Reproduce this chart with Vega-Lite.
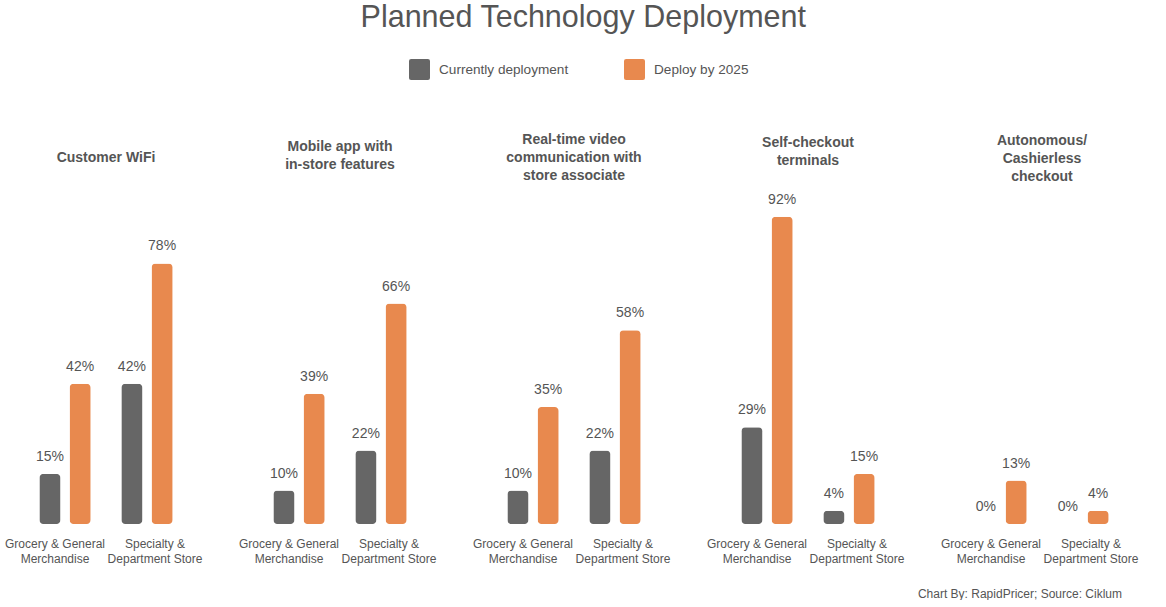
{
  "$schema": "https://vega.github.io/schema/vega-lite/v6.json",
  "padding": {"left": 4, "top": 2, "right": 0, "bottom": 0},
  "background": "white",
  "config": {
    "font": "Liberation Sans",
    "view": {"stroke": null},
    "concat": {"spacing": 32},
    "range": {"category": ["#666666", "#E8894E"]},
    "title": {"fontSize": 14, "fontWeight": "bold", "color": "#555555", "lineHeight": 18, "frame": "group", "anchor": "middle"},
    "axisX": {"labelAngle": 0, "labelFontSize": 12, "labelColor": "#555555", "labelLineHeight": 15, "labelPadding": 14, "ticks": false, "domain": false, "grid": false},
    "legend": {
      "orient": "none",
      "legendX": 403,
      "legendY": -131,
      "direction": "horizontal",
      "symbolType": "M-0.8,-1H0.8Q1,-1 1,-0.8V0.8Q1,1 0.8,1H-0.8Q-1,1 -1,0.8V-0.8Q-1,-1 -0.8,-1Z",
      "symbolSize": 441,
      "symbolStrokeWidth": 0,
      "labelFontSize": 13.6,
      "labelColor": "#555555",
      "labelOffset": 9,
      "columnPadding": 55
    },
    "bar": {"cornerRadius": 4},
    "text": {"baseline": "bottom", "dy": -10, "fontSize": 14, "color": "#555555"}
  },
  "title": {
    "text": "Planned Technology Deployment",
    "fontSize": 30.5,
    "fontWeight": "normal",
    "color": "#555555",
    "anchor": "middle",
    "frame": "bounds",
    "offset": 26,
    "dx": 10
  },
  "data": {
    "values": [
      {"tech": "Customer WiFi", "group": "Grocery & General|Merchandise", "series": "Currently deployment", "value": 0.15},
      {"tech": "Customer WiFi", "group": "Grocery & General|Merchandise", "series": "Deploy by 2025", "value": 0.42},
      {"tech": "Customer WiFi", "group": "Specialty &|Department Store", "series": "Currently deployment", "value": 0.42},
      {"tech": "Customer WiFi", "group": "Specialty &|Department Store", "series": "Deploy by 2025", "value": 0.78},
      {"tech": "Mobile app", "group": "Grocery & General|Merchandise", "series": "Currently deployment", "value": 0.10},
      {"tech": "Mobile app", "group": "Grocery & General|Merchandise", "series": "Deploy by 2025", "value": 0.39},
      {"tech": "Mobile app", "group": "Specialty &|Department Store", "series": "Currently deployment", "value": 0.22},
      {"tech": "Mobile app", "group": "Specialty &|Department Store", "series": "Deploy by 2025", "value": 0.66},
      {"tech": "Real-time video", "group": "Grocery & General|Merchandise", "series": "Currently deployment", "value": 0.10},
      {"tech": "Real-time video", "group": "Grocery & General|Merchandise", "series": "Deploy by 2025", "value": 0.35},
      {"tech": "Real-time video", "group": "Specialty &|Department Store", "series": "Currently deployment", "value": 0.22},
      {"tech": "Real-time video", "group": "Specialty &|Department Store", "series": "Deploy by 2025", "value": 0.58},
      {"tech": "Self-checkout", "group": "Grocery & General|Merchandise", "series": "Currently deployment", "value": 0.29},
      {"tech": "Self-checkout", "group": "Grocery & General|Merchandise", "series": "Deploy by 2025", "value": 0.92},
      {"tech": "Self-checkout", "group": "Specialty &|Department Store", "series": "Currently deployment", "value": 0.04},
      {"tech": "Self-checkout", "group": "Specialty &|Department Store", "series": "Deploy by 2025", "value": 0.15},
      {"tech": "Autonomous", "group": "Grocery & General|Merchandise", "series": "Currently deployment", "value": 0.0},
      {"tech": "Autonomous", "group": "Grocery & General|Merchandise", "series": "Deploy by 2025", "value": 0.13},
      {"tech": "Autonomous", "group": "Specialty &|Department Store", "series": "Currently deployment", "value": 0.0},
      {"tech": "Autonomous", "group": "Specialty &|Department Store", "series": "Deploy by 2025", "value": 0.04}
    ]
  },
  "vconcat": [
    {
      "title": {
        "text": "Chart By: RapidPricer; Source: Ciklum",
        "orient": "bottom",
        "anchor": "end",
        "frame": "bounds",
        "fontSize": 12,
        "fontWeight": "normal",
        "color": "#555555",
        "offset": 25,
        "dx": -20
      },
      "hconcat": [
        {
          "title": {"text": ["Customer WiFi"], "offset": 25},
          "transform": [{"filter": "datum.tech === 'Customer WiFi'"}],
          "width": 200,
          "height": 334,
          "encoding": {
            "x": {"field": "group", "type": "nominal", "title": null, "scale": {"paddingInner": 0.3, "paddingOuter": 0.37},
              "axis": {"labelExpr": "split(datum.value, '|')", "labelOffset": {"condition": {"test": "indexof(datum.value, 'Grocery') === 0", "value": -10}, "value": 8}}},
            "xOffset": {"field": "series", "type": "nominal", "scale": {"paddingInner": 0.3, "paddingOuter": 0.1}},
            "y": {"field": "value", "type": "quantitative", "scale": {"domain": [0, 1]}, "axis": null}
          },
          "layer": [
            {"mark": "bar", "encoding": {"color": {"field": "series", "type": "nominal", "title": null}}},
            {"mark": "text", "encoding": {"text": {"field": "value", "type": "quantitative", "format": ".0%"}}}
          ]
        },
        {
          "title": {"text": ["Mobile app with", "in-store features"], "offset": 18},
          "transform": [{"filter": "datum.tech === 'Mobile app'"}],
          "width": 200,
          "height": 334,
          "encoding": {
            "x": {"field": "group", "type": "nominal", "title": null, "scale": {"paddingInner": 0.3, "paddingOuter": 0.37},
              "axis": {"labelExpr": "split(datum.value, '|')", "labelOffset": {"condition": {"test": "indexof(datum.value, 'Grocery') === 0", "value": -10}, "value": 8}}},
            "xOffset": {"field": "series", "type": "nominal", "scale": {"paddingInner": 0.3, "paddingOuter": 0.1}},
            "y": {"field": "value", "type": "quantitative", "scale": {"domain": [0, 1]}, "axis": null}
          },
          "layer": [
            {"mark": "bar", "encoding": {"color": {"field": "series", "type": "nominal", "title": null}}},
            {"mark": "text", "encoding": {"text": {"field": "value", "type": "quantitative", "format": ".0%"}}}
          ]
        },
        {
          "title": {"text": ["Real-time video", "communication with", "store associate"], "offset": 7},
          "transform": [{"filter": "datum.tech === 'Real-time video'"}],
          "width": 200,
          "height": 334,
          "encoding": {
            "x": {"field": "group", "type": "nominal", "title": null, "scale": {"paddingInner": 0.3, "paddingOuter": 0.37},
              "axis": {"labelExpr": "split(datum.value, '|')", "labelOffset": {"condition": {"test": "indexof(datum.value, 'Grocery') === 0", "value": -10}, "value": 8}}},
            "xOffset": {"field": "series", "type": "nominal", "scale": {"paddingInner": 0.3, "paddingOuter": 0.1}},
            "y": {"field": "value", "type": "quantitative", "scale": {"domain": [0, 1]}, "axis": null}
          },
          "layer": [
            {"mark": "bar", "encoding": {"color": {"field": "series", "type": "nominal", "title": null}}},
            {"mark": "text", "encoding": {"text": {"field": "value", "type": "quantitative", "format": ".0%"}}}
          ]
        },
        {
          "title": {"text": ["Self-checkout", "terminals"], "offset": 22},
          "transform": [{"filter": "datum.tech === 'Self-checkout'"}],
          "width": 200,
          "height": 334,
          "encoding": {
            "x": {"field": "group", "type": "nominal", "title": null, "scale": {"paddingInner": 0.3, "paddingOuter": 0.37},
              "axis": {"labelExpr": "split(datum.value, '|')", "labelOffset": {"condition": {"test": "indexof(datum.value, 'Grocery') === 0", "value": -10}, "value": 8}}},
            "xOffset": {"field": "series", "type": "nominal", "scale": {"paddingInner": 0.3, "paddingOuter": 0.1}},
            "y": {"field": "value", "type": "quantitative", "scale": {"domain": [0, 1]}, "axis": null}
          },
          "layer": [
            {"mark": "bar", "encoding": {"color": {"field": "series", "type": "nominal", "title": null}}},
            {"mark": "text", "encoding": {"text": {"field": "value", "type": "quantitative", "format": ".0%"}}}
          ]
        },
        {
          "title": {"text": ["Autonomous/", "Cashierless", "checkout"], "offset": 6},
          "transform": [{"filter": "datum.tech === 'Autonomous'"}],
          "width": 200,
          "height": 334,
          "encoding": {
            "x": {"field": "group", "type": "nominal", "title": null, "scale": {"paddingInner": 0.3, "paddingOuter": 0.37},
              "axis": {"labelExpr": "split(datum.value, '|')", "labelOffset": {"condition": {"test": "indexof(datum.value, 'Grocery') === 0", "value": -10}, "value": 8}}},
            "xOffset": {"field": "series", "type": "nominal", "scale": {"paddingInner": 0.3, "paddingOuter": 0.1}},
            "y": {"field": "value", "type": "quantitative", "scale": {"domain": [0, 1]}, "axis": null}
          },
          "layer": [
            {"mark": "bar", "encoding": {"color": {"field": "series", "type": "nominal", "title": null}}},
            {"mark": "text", "encoding": {"text": {"field": "value", "type": "quantitative", "format": ".0%"}}}
          ]
        }
      ]
    }
  ]
}
